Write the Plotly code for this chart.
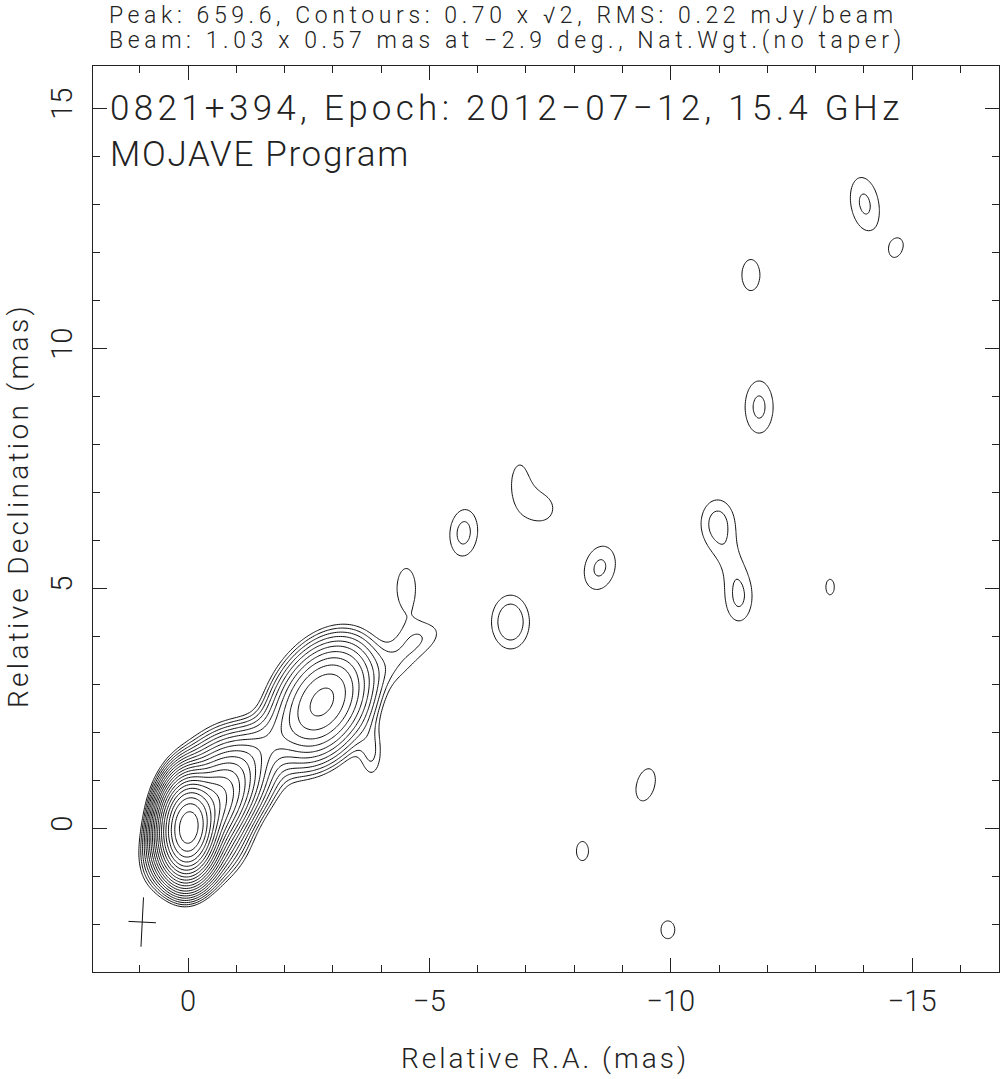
import numpy as np
import plotly.graph_objects as go

# Image model: elliptical Gaussian brightness components
# RA, Dec offsets (mas), peak (mJy/beam), sigma major/minor (mas), PA (deg, E of N)
comp_ra   = [0.00, -0.35, -0.50, -0.75, -1.60, -2.78, -4.30, -3.80, -4.52, -4.85,
             -5.71, -6.68, -6.87, -7.40, -8.53, -10.97, -11.41, -11.20, -13.30,
             -11.66, -11.83, -14.02, -14.70, -9.48, -8.17, -9.94]
comp_dec  = [0.00, 0.30, -0.45, 1.00, 1.75, 2.63, 3.35, 1.55, 5.00, 3.95,
             6.15, 4.29, 7.19, 6.65, 5.42, 6.35, 4.81, 5.60, 5.02,
             11.52, 8.77, 13.00, 12.08, 0.90, -0.48, -2.12]
comp_peak = [600.0, 90.0, 4.0, 12.0, 2.8, 25.0, 0.60, 1.0, 0.88, 0.82,
             1.10, 1.31, 0.80, 0.75, 1.05, 1.12, 1.05, 0.30, 0.75,
             0.85, 1.07, 1.05, 0.74, 0.85, 0.78, 0.78]
comp_smaj = [0.44, 0.60, 0.50, 0.60, 0.60, 0.65, 0.40, 0.45, 0.60, 0.50,
             0.51, 0.50, 0.70, 0.35, 0.51, 0.50, 0.55, 0.35, 0.44,
             0.52, 0.59, 0.62, 0.36, 0.55, 0.43, 0.40]
comp_smin = [0.25, 0.32, 0.35, 0.45, 0.28, 0.44, 0.30, 0.20, 0.28, 0.30,
             0.30, 0.35, 0.30, 0.30, 0.345, 0.35, 0.30, 0.30, 0.24,
             0.30, 0.315, 0.32, 0.22, 0.30, 0.27, 0.31]
comp_pa   = [-3.0, -35.0, -40.0, -45.0, -50.0, -30.0, -50.0, 0.0, 0.0, -60.0,
             -5.0, 0.0, 0.0, 0.0, -15.0, 0.0, 0.0, 0.0, 0.0,
             0.0, 0.0, 10.0, -20.0, -15.0, 0.0, 0.0]

peak_flux = 659.6      # mJy/beam
base_level = 0.70      # lowest contour, mJy/beam
level_step = np.sqrt(2)

beam_major = 1.03      # mas
beam_minor = 0.57      # mas
beam_pa = -2.9         # deg
beam_center = [0.95, -1.96]  # RA, Dec (mas)

x_range = [1.97, -16.8]
y_range = [-3.0, 15.875]

title_lines = ["Peak: 659.6, Contours: 0.70 x \u221a2, RMS: 0.22 mJy/beam",
               "Beam: 1.03 x 0.57 mas at \u22122.9 deg., Nat.Wgt.(no taper)"]
label_lines = ["0821+394, Epoch: 2012\u221207\u221212, 15.4 GHz",
               "MOJAVE Program"]
x_title = "Relative R.A. (mas)"
y_title = "Relative Declination (mas)"

# ---------------- build image on a grid ----------------
step = 0.045
ra = np.arange(-17.2, 2.4, step)
dec = np.arange(-3.4, 16.3, step)
RA, DEC = np.meshgrid(ra, dec)
img = np.zeros_like(RA)
for x0, y0, p, sa, sb, pa in zip(comp_ra, comp_dec, comp_peak,
                                 comp_smaj, comp_smin, comp_pa):
    t = np.deg2rad(pa)
    dx = RA - x0
    dy = DEC - y0
    a = dx * np.sin(t) + dy * np.cos(t)
    b = dx * np.cos(t) - dy * np.sin(t)
    img += p * np.exp(-0.5 * (a ** 2 / sa ** 2 + b ** 2 / sb ** 2))

n_levels = int(np.floor(np.log(peak_flux / base_level) / np.log(level_step)))
z = np.log(np.maximum(img, 1e-4) / base_level) / np.log(level_step)
z = np.clip(z, -3, None)
z = np.round(z, 3)

fig = go.Figure()
fig.add_trace(go.Contour(
    x=np.round(ra, 4), y=np.round(dec, 4), z=z,
    contours=dict(start=0, end=n_levels, size=1, coloring="none"),
    line=dict(color="#111111", width=1, smoothing=1.0),
    showscale=False, hoverinfo="skip"))

# beam cross
tb = np.deg2rad(beam_pa)
cx, cy = beam_center
hx, hy = 0.5 * beam_major * np.sin(tb), 0.5 * beam_major * np.cos(tb)
mx, my = 0.5 * beam_minor * np.cos(tb), -0.5 * beam_minor * np.sin(tb)
fig.add_trace(go.Scatter(x=[cx - hx, cx + hx, None, cx - mx, cx + mx],
                         y=[cy - hy, cy + hy, None, cy - my, cy + my],
                         mode="lines", line=dict(color="#111111", width=1),
                         hoverinfo="skip", showlegend=False))

FONT = "Roboto"
TXT = "#222222"

def spaced(s, px):
    return '<span style="letter-spacing:%.1fpx">%s</span>' % (px, s)

axis_common = dict(showgrid=False, zeroline=False, showline=True, automargin=False,
                   linecolor="#222222", linewidth=1, mirror="ticks",
                   ticks="inside", ticklen=14, tickwidth=1, tickcolor="#222222",
                   tick0=0, dtick=5,
                   minor=dict(ticks="inside", ticklen=7, tickwidth=1,
                              tickcolor="#222222", dtick=1, tick0=0),
                   tickfont=dict(family=FONT, size=29, color=TXT, weight=300))

fig.update_xaxes(range=x_range, ticklabelstandoff=3, **axis_common)
fig.update_yaxes(range=y_range, tickangle=-90, ticklabelstandoff=8, **axis_common)

W, H = 1001, 1079
ml, mr, mt, mb = 93, 2, 66, 107
pw, ph = W - ml - mr, H - mt - mb

def px(xp):
    return (xp - ml) / pw

def py(yp):
    return (H - mb - yp) / ph

ann = []
for i, t in enumerate(title_lines):
    ann.append(dict(text=spaced(t, 4.6), x=px(107), y=py(15 + 26 * i),
                    xref="paper", yref="paper",
                    xanchor="left", yanchor="middle", showarrow=False,
                    font=dict(family=FONT, size=23, color=TXT, weight=300)))
for i, (t, sp) in enumerate(zip(label_lines, [4.3, 1.7])):
    ann.append(dict(text=spaced(t, sp), x=px(108), y=py(108 + 47 * i),
                    xref="paper", yref="paper",
                    xanchor="left", yanchor="middle", showarrow=False,
                    font=dict(family=FONT, size=35, color=TXT, weight=300)))
ann.append(dict(text=spaced(x_title, 3.0), x=px(545), y=py(1058),
                xref="paper", yref="paper", xanchor="center", yanchor="middle",
                showarrow=False, font=dict(family=FONT, size=28, color=TXT, weight=300)))
ann.append(dict(text=spaced(y_title, 3.3), x=px(18), y=py(506), textangle=-90,
                xref="paper", yref="paper", xanchor="center", yanchor="middle",
                showarrow=False, font=dict(family=FONT, size=28, color=TXT, weight=300)))

fig.update_layout(width=W, height=H, margin=dict(l=ml, r=mr, t=mt, b=mb),
                  plot_bgcolor="white", paper_bgcolor="white",
                  showlegend=False, annotations=ann)

fig.write_html("out.html", config={"displayModeBar": False},
               post_script="document.body.style.margin='0';document.body.style.overflow='hidden';")
